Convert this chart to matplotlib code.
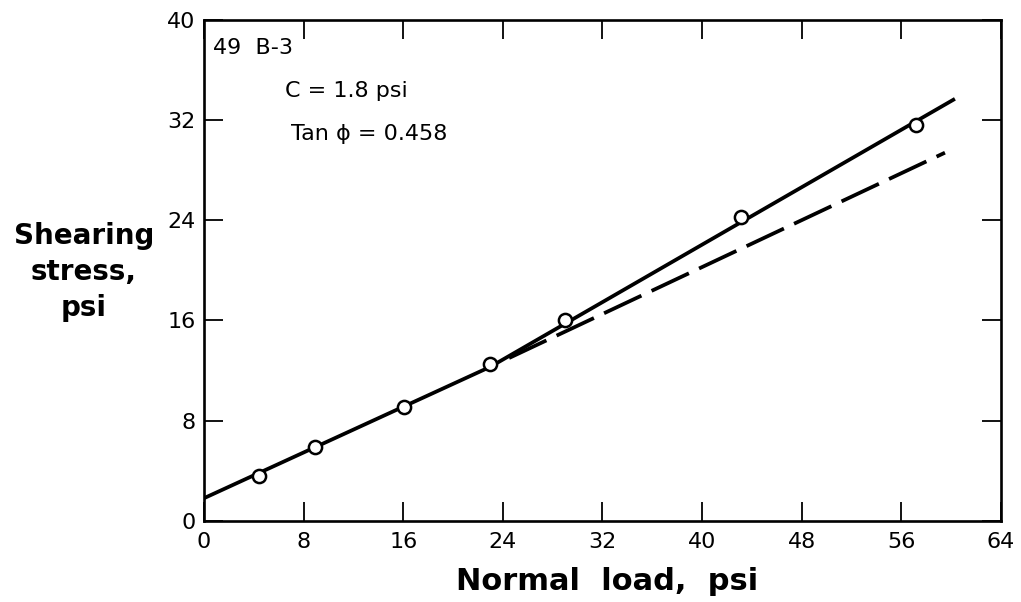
import matplotlib
matplotlib.use("Agg")
import matplotlib.pyplot as plt

normal_load  = [4.4, 8.9, 16.1, 23.0, 29.0, 43.1, 57.2]
shear_stress = [3.6, 5.9, 9.1, 12.5, 16.0, 24.3, 31.6]

# solid envelope: straight part, then steeper part
solid_x = [0.0, 23.0, 60.3]
solid_y = [1.8, 12.3, 33.7]

# dashed extension of the straight line  C = 1.8, tan(phi) = 0.458
dash_x = [24.5, 59.5]
dash_y = [13.0, 29.4]

x_ticks = [0, 8, 16, 24, 32, 40, 48, 56, 64]
y_ticks = [0, 8, 16, 24, 32, 40]

plt.rcParams["font.family"] = ["DejaVu Sans"]

fig = plt.figure(figsize=(10.21, 6.02), dpi=100)
ax = fig.add_axes([0.1998, 0.135, 0.7806, 0.8318])

ax.plot(solid_x, solid_y, color="black", lw=2.7, solid_capstyle="butt", zorder=2)
ax.plot(dash_x, dash_y, color="black", lw=2.7, dashes=(11, 3),
        dash_capstyle="butt", zorder=2)
ax.plot(normal_load, shear_stress, "o", ms=9.5, mfc="white", mec="black",
        mew=1.8, zorder=3)

ax.set_xlim(0, 64)
ax.set_ylim(0, 40)
ax.set_xticks(x_ticks)
ax.set_yticks(y_ticks)
ax.tick_params(direction="in", length=14, width=1.3, labelsize=16,
               top=True, right=True)
ax.tick_params(axis="x", pad=8)
ax.tick_params(axis="y", pad=6)
for sp in ax.spines.values():
    sp.set_linewidth(1.9)

ax.text(0.7, 37.8, "49  B-3", fontsize=16, va="center", ha="left")
ax.text(6.5, 34.3, "C = 1.8 psi", fontsize=16, va="center", ha="left")
ax.text(7.0, 30.9, "Tan ϕ = 0.458", fontsize=16, va="center", ha="left")

fig.text(607 / 1021, 1 - 581 / 602, "Normal  load,  psi", fontsize=22,
         fontweight="bold", ha="center", va="center")
fig.text(84 / 1021, 1 - 272 / 602, "Shearing\nstress,\npsi", fontsize=20,
         fontweight="bold", ha="center", va="center", linespacing=1.35)

fig.savefig("out.png", dpi=100)
